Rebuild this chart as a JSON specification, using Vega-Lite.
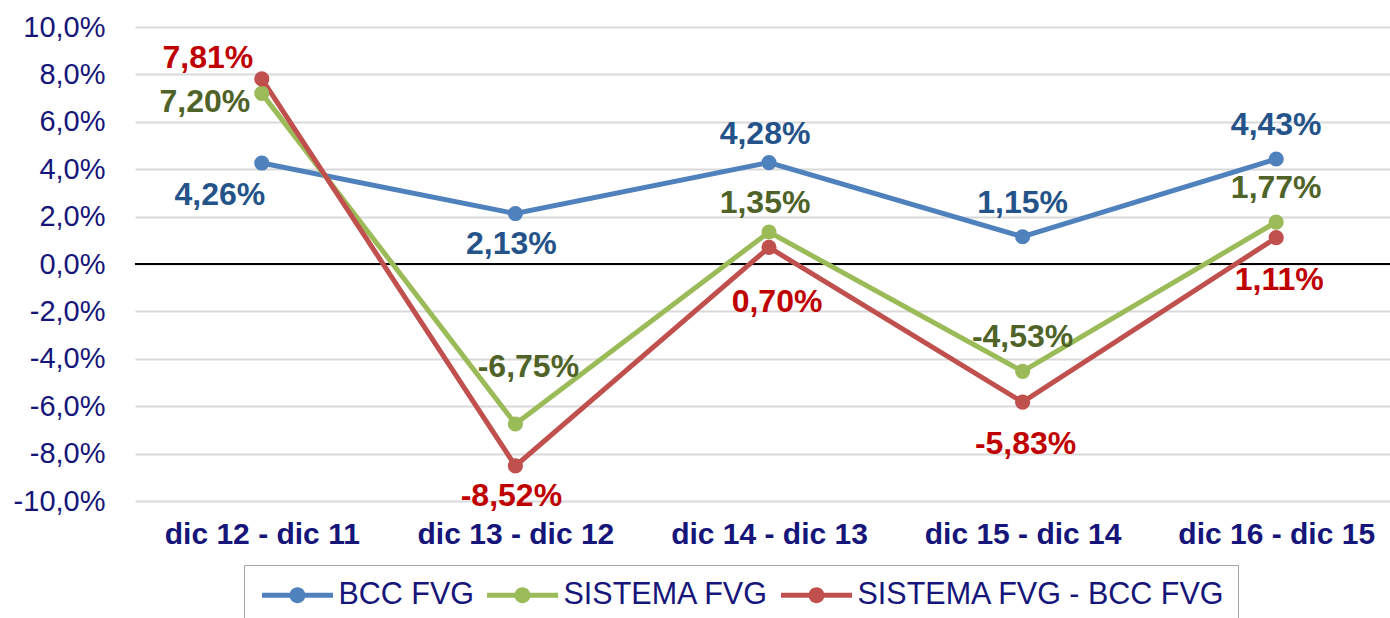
{
  "$schema": "https://vega.github.io/schema/vega-lite/v6.json",
  "autosize": "none",
  "width": 1268,
  "height": 474,
  "padding": {"left": 135, "top": 27, "right": 0, "bottom": 117},
  "background": "white",
  "config": {
    "view": {"stroke": null},
    "font": "Liberation Sans"
  },
  "data": {
    "values": [
      {"periodo": "dic 12 - dic 11", "serie": "BCC FVG", "valore": 4.26, "label": "4,26%"},
      {"periodo": "dic 13 - dic 12", "serie": "BCC FVG", "valore": 2.13, "label": "2,13%"},
      {"periodo": "dic 14 - dic 13", "serie": "BCC FVG", "valore": 4.28, "label": "4,28%"},
      {"periodo": "dic 15 - dic 14", "serie": "BCC FVG", "valore": 1.15, "label": "1,15%"},
      {"periodo": "dic 16 - dic 15", "serie": "BCC FVG", "valore": 4.43, "label": "4,43%"},
      {"periodo": "dic 12 - dic 11", "serie": "SISTEMA FVG", "valore": 7.20, "label": "7,20%"},
      {"periodo": "dic 13 - dic 12", "serie": "SISTEMA FVG", "valore": -6.75, "label": "-6,75%"},
      {"periodo": "dic 14 - dic 13", "serie": "SISTEMA FVG", "valore": 1.35, "label": "1,35%"},
      {"periodo": "dic 15 - dic 14", "serie": "SISTEMA FVG", "valore": -4.53, "label": "-4,53%"},
      {"periodo": "dic 16 - dic 15", "serie": "SISTEMA FVG", "valore": 1.77, "label": "1,77%"},
      {"periodo": "dic 12 - dic 11", "serie": "SISTEMA FVG - BCC FVG", "valore": 7.81, "label": "7,81%"},
      {"periodo": "dic 13 - dic 12", "serie": "SISTEMA FVG - BCC FVG", "valore": -8.52, "label": "-8,52%"},
      {"periodo": "dic 14 - dic 13", "serie": "SISTEMA FVG - BCC FVG", "valore": 0.70, "label": "0,70%"},
      {"periodo": "dic 15 - dic 14", "serie": "SISTEMA FVG - BCC FVG", "valore": -5.83, "label": "-5,83%"},
      {"periodo": "dic 16 - dic 15", "serie": "SISTEMA FVG - BCC FVG", "valore": 1.11, "label": "1,11%"}
    ]
  },
  "encoding": {
    "x": {
      "field": "periodo", "type": "nominal", "sort": null,
      "scale": {"type": "point", "padding": 0.5},
      "axis": {
        "title": null, "labelAngle": 0, "ticks": false, "domain": false, "grid": false,
        "labelFont": "Liberation Sans", "labelFontSize": 30, "labelFontWeight": "bold",
        "labelColor": "#15157a", "labelPadding": 18, "labelLimit": 400
      }
    },
    "y": {
      "field": "valore", "type": "quantitative",
      "scale": {"domain": [-10, 10], "nice": false},
      "axis": {
        "title": null, "values": [-10, -8, -6, -4, -2, 0, 2, 4, 6, 8, 10],
        "labelExpr": "replace(replace(format(datum.value, '.1f'), '.', ','), '\u2212', '-') + '%'",
        "ticks": false, "domain": false, "grid": true,
        "gridColor": "#d9d9d9", "gridWidth": 2,
        "labelFont": "Liberation Sans", "labelFontSize": 29, "labelColor": "#15157a",
        "labelPadding": 30
      }
    }
  },
  "layer": [
    {
      "mark": {"type": "rule", "color": "#000000", "strokeWidth": 1.5},
      "encoding": {"y": {"datum": 0}, "x": null}
    },
    {
      "mark": {"type": "line", "strokeWidth": 5},
      "encoding": {
        "color": {
          "field": "serie", "type": "nominal", "sort": null,
          "scale": {"domain": ["BCC FVG", "SISTEMA FVG", "SISTEMA FVG - BCC FVG"], "range": ["#4f81bd", "#9bbb59", "#c0504d"]},
          "legend": {
            "title": null, "orient": "none", "direction": "horizontal",
            "legendX": 109, "legendY": 538,
            "symbolType": "M-2,-0.14L2,-0.14L2,0.14L-2,0.14Z M-0.45,0A0.45,0.45 0 1,1 0.45,0A0.45,0.45 0 1,1 -0.45,0Z",
            "symbolSize": 1260, "symbolStrokeWidth": 0,
            "labelFont": "Liberation Sans", "labelFontSize": 30.5, "labelColor": "#15157a",
            "labelOffset": 46.5, "columnPadding": 6,
            "padding": 12, "strokeColor": "#a6a6a6",
            "labelLimit": 600,
            "encode": {"symbols": {"update": {"x": {"value": 41.5}, "fill": {"scale": "color", "field": "value"}, "strokeWidth": {"value": 0}, "opacity": {"value": 1}}}}
          }
        }
      }
    },
    {
      "mark": {"type": "point", "filled": true, "size": 230, "opacity": 1},
      "encoding": {
        "color": {"field": "serie", "type": "nominal", "sort": null}
      }
    },
    {
      "transform": [{"filter": "(datum.serie == 'BCC FVG' || datum.serie == 'SISTEMA FVG') && (datum.periodo == 'dic 15 - dic 14' || datum.periodo == 'dic 16 - dic 15')"}],
      "mark": {"type": "text", "font": "Liberation Sans", "fontSize": 32, "fontWeight": "bold", "baseline": "middle", "dx": 0, "dy": -34},
      "encoding": {"text": {"field": "label"}, "color": {"condition": [{"test": "datum.serie == 'BCC FVG'", "value": "#24538a"}, {"test": "datum.serie == 'SISTEMA FVG'", "value": "#4f6228"}], "value": "#c00000"}}
    },
    {
      "transform": [{"filter": "(datum.serie == 'BCC FVG' || datum.serie == 'SISTEMA FVG') && datum.periodo == 'dic 14 - dic 13'"}],
      "mark": {"type": "text", "font": "Liberation Sans", "fontSize": 32, "fontWeight": "bold", "baseline": "middle", "dx": -4, "dy": -29},
      "encoding": {"text": {"field": "label"}, "color": {"condition": [{"test": "datum.serie == 'BCC FVG'", "value": "#24538a"}, {"test": "datum.serie == 'SISTEMA FVG'", "value": "#4f6228"}], "value": "#c00000"}}
    },
    {
      "transform": [{"filter": "(datum.serie == 'BCC FVG' || datum.serie == 'SISTEMA FVG - BCC FVG') && datum.periodo == 'dic 13 - dic 12'"}],
      "mark": {"type": "text", "font": "Liberation Sans", "fontSize": 32, "fontWeight": "bold", "baseline": "middle", "dx": -4, "dy": 30},
      "encoding": {"text": {"field": "label"}, "color": {"condition": [{"test": "datum.serie == 'BCC FVG'", "value": "#24538a"}, {"test": "datum.serie == 'SISTEMA FVG'", "value": "#4f6228"}], "value": "#c00000"}}
    },
    {
      "transform": [{"filter": "datum.serie == 'BCC FVG' && datum.periodo == 'dic 12 - dic 11'"}],
      "mark": {"type": "text", "font": "Liberation Sans", "fontSize": 32, "fontWeight": "bold", "baseline": "middle", "dx": -42, "dy": 32},
      "encoding": {"text": {"field": "label"}, "color": {"value": "#24538a"}}
    },
    {
      "transform": [{"filter": "datum.serie == 'SISTEMA FVG' && datum.periodo == 'dic 12 - dic 11'"}],
      "mark": {"type": "text", "font": "Liberation Sans", "fontSize": 32, "fontWeight": "bold", "baseline": "middle", "dx": -57, "dy": 9},
      "encoding": {"text": {"field": "label"}, "color": {"value": "#4f6228"}}
    },
    {
      "transform": [{"filter": "datum.serie == 'SISTEMA FVG - BCC FVG' && datum.periodo == 'dic 12 - dic 11'"}],
      "mark": {"type": "text", "font": "Liberation Sans", "fontSize": 32, "fontWeight": "bold", "baseline": "middle", "dx": -54, "dy": -21},
      "encoding": {"text": {"field": "label"}, "color": {"value": "#c00000"}}
    },
    {
      "transform": [{"filter": "datum.serie == 'SISTEMA FVG' && datum.periodo == 'dic 13 - dic 12'"}],
      "mark": {"type": "text", "font": "Liberation Sans", "fontSize": 32, "fontWeight": "bold", "baseline": "middle", "dx": 13, "dy": -57},
      "encoding": {"text": {"field": "label"}, "color": {"value": "#4f6228"}}
    },
    {
      "transform": [{"filter": "datum.serie == 'SISTEMA FVG - BCC FVG' && datum.periodo == 'dic 14 - dic 13'"}],
      "mark": {"type": "text", "font": "Liberation Sans", "fontSize": 32, "fontWeight": "bold", "baseline": "middle", "dx": 8, "dy": 55},
      "encoding": {"text": {"field": "label"}, "color": {"value": "#c00000"}}
    },
    {
      "transform": [{"filter": "datum.serie == 'SISTEMA FVG - BCC FVG' && (datum.periodo == 'dic 15 - dic 14' || datum.periodo == 'dic 16 - dic 15')"}],
      "mark": {"type": "text", "font": "Liberation Sans", "fontSize": 32, "fontWeight": "bold", "baseline": "middle", "dx": 3, "dy": 42},
      "encoding": {"text": {"field": "label"}, "color": {"value": "#c00000"}}
    }
  ]
}
